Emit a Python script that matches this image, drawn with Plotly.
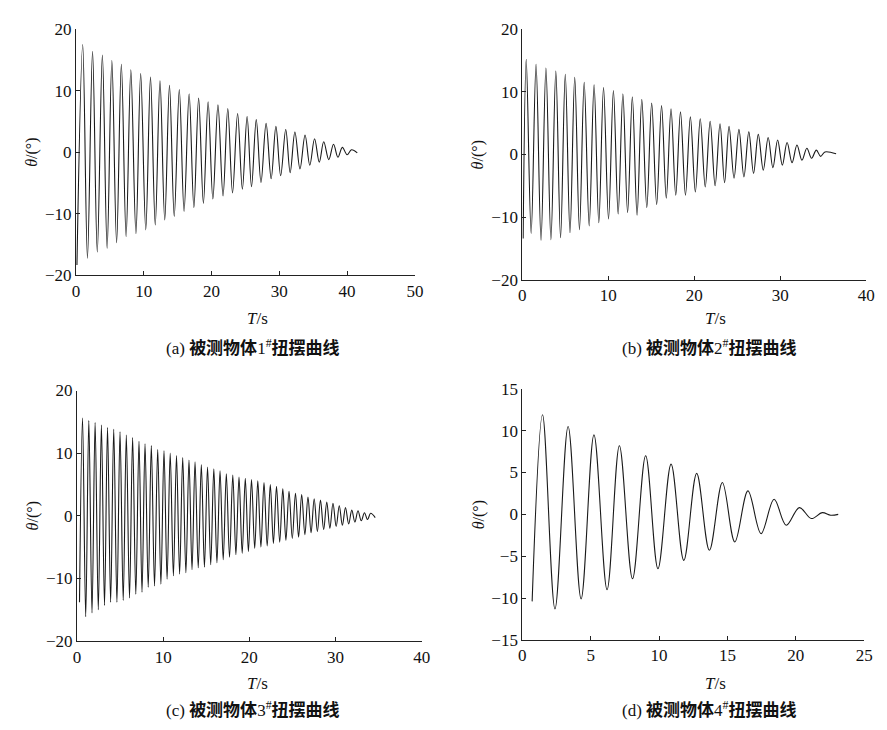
import plotly.graph_objects as go

# ---------------- data (extrema of each swing curve) -------------
# (a) object 1#
a_start_t, a_start_v = [0.15], [-18.3]
a_peak_t = [1.0, 2.45, 3.9, 5.3, 6.7, 8.1, 9.55, 11.0, 12.4, 13.8, 15.25, 16.7, 18.1, 19.5,
            20.95, 22.4, 23.85, 25.25, 26.6, 28.05, 29.5, 30.95, 32.3, 33.8, 35.2, 36.55,
            38.0, 39.3, 40.65]
a_peak_v = [17.5, 16.4, 15.8, 14.9, 14.3, 13.4, 12.8, 12.2, 11.6, 10.9, 10.2, 9.5, 8.8, 8.2,
            7.7, 7.1, 6.3, 5.8, 5.3, 4.7, 4.2, 3.7, 3.3, 2.8, 2.2, 1.7, 1.3, 0.8, 0.4]
a_trough_t = [1.7, 3.15, 4.6, 6.0, 7.4, 8.85, 10.3, 11.7, 13.1, 14.5, 15.95, 17.4, 18.8, 20.2,
              21.7, 23.1, 24.55, 25.9, 27.3, 28.8, 30.2, 31.6, 33.05, 34.5, 35.9, 37.3,
              38.65, 40.0]
a_trough_v = [-17.2, -16.2, -15.6, -14.7, -13.7, -13.2, -12.6, -11.8, -11.0, -10.4, -9.6, -9.0,
              -8.3, -7.6, -7.1, -6.6, -6.0, -5.6, -4.9, -4.3, -3.8, -3.3, -2.7, -2.1, -1.6,
              -1.2, -0.8, -0.4]
a_end_t, a_end_v = [41.5], [-0.1]

# (b) object 2#
b_start_t, b_start_v = [0.1], [-13.4]
b_peak_t = [0.46, 1.6, 2.75, 3.9, 5.0, 6.1, 7.2, 8.35, 9.45, 10.6, 11.7, 12.8, 13.9, 15.05,
            16.2, 17.3, 18.4, 19.55, 20.7, 21.85, 23.0, 24.05, 25.2, 26.35, 27.45, 28.6,
            29.7, 30.8, 31.95, 33.1, 34.2, 35.2]
b_peak_v = [15.2, 14.4, 13.8, 13.3, 12.8, 12.3, 11.5, 11.1, 10.7, 10.2, 9.7, 9.2, 8.8, 8.2,
            7.8, 7.3, 6.8, 6.0, 5.7, 5.3, 4.9, 4.5, 4.0, 3.6, 3.2, 2.7, 2.3, 1.9, 1.5, 1.0,
            0.7, 0.4]
b_trough_t = [1.03, 2.18, 3.33, 4.45, 5.55, 6.65, 7.78, 8.9, 10.03, 11.15, 12.25, 13.35,
              14.48, 15.63, 16.75, 17.85, 18.98, 20.13, 21.28, 22.43, 23.53, 24.63, 25.78,
              26.9, 28.03, 29.15, 30.25, 31.38, 32.53, 33.65, 34.7]
b_trough_v = [-12.6, -13.7, -13.6, -13.3, -12.5, -12.0, -11.4, -10.9, -10.3, -9.5, -9.3, -9.7,
              -8.5, -8.0, -7.0, -6.5, -6.5, -6.0, -5.2, -5.0, -4.5, -3.8, -3.6, -3.0, -2.5,
              -2.1, -1.7, -1.3, -0.9, -0.6, -0.3]
b_end_t, b_end_v = [36.5], [0.1]

# (c) object 3#
c_start_t, c_start_v = [0.3], [-13.8]
c_peak_t = [0.65, 1.38, 2.11, 2.84, 3.55, 4.27, 5.0, 5.73, 6.46, 7.2, 7.9, 8.63, 9.37, 10.1,
            10.82, 11.55, 12.27, 13.0, 13.7, 14.43, 15.15, 15.88, 16.6, 17.33, 18.08, 18.8,
            19.53, 20.25, 20.98, 21.7, 22.43, 23.15, 23.88, 24.6, 25.35, 26.07, 26.8, 27.52,
            28.25, 28.98, 29.7, 30.43, 31.15, 31.88, 32.6, 33.35, 34.07]
c_peak_v = [15.6, 15.2, 14.9, 14.5, 14.1, 13.8, 13.4, 12.9, 12.5, 11.9, 11.5, 11.2, 10.6,
            10.4, 10.0, 9.6, 9.3, 8.9, 8.6, 8.2, 7.8, 7.5, 7.2, 6.7, 6.5, 6.2, 6.0, 5.8, 5.6,
            5.3, 5.0, 4.7, 4.3, 3.9, 3.6, 3.4, 3.0, 2.7, 2.5, 2.2, 2.0, 1.6, 1.3, 0.9, 0.8,
            0.5, 0.4]
c_trough_t = [1.02, 1.75, 2.48, 3.2, 3.91, 4.64, 5.37, 6.1, 6.83, 7.55, 8.27, 9.0, 9.74,
              10.46, 11.19, 11.91, 12.64, 13.35, 14.07, 14.79, 15.52, 16.24, 16.97, 17.7,
              18.44, 19.17, 19.89, 20.62, 21.34, 22.07, 22.79, 23.52, 24.24, 24.98, 25.71,
              26.44, 27.16, 27.89, 28.62, 29.34, 30.07, 30.79, 31.52, 32.24, 32.98, 33.71]
c_trough_v = [-16.1, -15.5, -15.0, -14.3, -13.8, -13.8, -13.5, -13.1, -12.5, -12.2, -11.4,
              -11.2, -10.9, -10.1, -9.6, -9.3, -9.1, -8.6, -8.3, -8.2, -7.8, -7.5, -7.0, -6.6,
              -6.2, -6.0, -5.7, -5.2, -5.0, -4.8, -4.4, -4.2, -3.9, -3.6, -3.4, -3.0, -2.7,
              -2.5, -2.2, -2.0, -1.7, -1.5, -1.3, -1.0, -0.8, -0.6]
c_end_t, c_end_v = [34.6], [-0.3]

# (d) object 4#
d_start_t, d_start_v = [0.72], [-10.4]
d_peak_t = [1.48, 3.35, 5.24, 7.1, 9.02, 10.88, 12.75, 14.63, 16.5, 18.41, 20.26, 21.93]
d_peak_v = [11.9, 10.5, 9.5, 8.2, 7.0, 6.0, 4.9, 3.8, 2.8, 1.8, 0.8, 0.2]
d_trough_t = [2.39, 4.3, 6.2, 8.06, 9.92, 11.81, 13.68, 15.54, 17.46, 19.3, 21.14, 22.55]
d_trough_v = [-11.3, -10.1, -9.0, -7.7, -6.5, -5.5, -4.3, -3.3, -2.3, -1.3, -0.5, -0.1]
d_end_t, d_end_v = [23.1], [0.0]

captions = ["(a) ", "(b) ", "(c) ", "(d) "]
caption_nums = ["1", "2", "3", "4"]
caption_cn = "被测物体"
caption_cn2 = "扭摆曲线"
x_title = "<i>T</i>/s"
y_title = "<i>θ</i>/(°)"

x_ranges = [[0, 50], [0, 40], [0, 40], [0, 25]]
x_dticks = [10, 10, 10, 5]
y_ranges = [[-20, 20], [-20, 20], [-20, 20], [-15, 15]]
y_dticks = [10, 10, 10, 5]

# ---------------- layout geometry (paper fractions) -------------
W, H = 887, 730
x_dom_px = [(73, 417), (526, 875), (74, 424), (526, 873)]
y_dom_px = [(20.7, 273.5), (20.7, 278), (391.7, 649), (390, 647.7)]


def series(st, sv, pt, pv, tt, tv, et, ev):
    pts = sorted(zip(st + pt + tt + et, sv + pv + tv + ev))
    return [p[0] for p in pts], [p[1] for p in pts]


panels = [
    series(a_start_t, a_start_v, a_peak_t, a_peak_v, a_trough_t, a_trough_v, a_end_t, a_end_v),
    series(b_start_t, b_start_v, b_peak_t, b_peak_v, b_trough_t, b_trough_v, b_end_t, b_end_v),
    series(c_start_t, c_start_v, c_peak_t, c_peak_v, c_trough_t, c_trough_v, c_end_t, c_end_v),
    series(d_start_t, d_start_v, d_peak_t, d_peak_v, d_trough_t, d_trough_v, d_end_t, d_end_v),
]

fig = go.Figure()
tick_font = dict(family="Liberation Serif, Times New Roman, serif", size=17, color="#111")

layout = dict(
    width=W, height=H, margin=dict(l=0, r=0, t=0, b=0),
    paper_bgcolor="white", plot_bgcolor="white", showlegend=False,
)

annotations = []
for i, (xs, ys) in enumerate(panels):
    sfx = "" if i == 0 else str(i + 1)
    fig.add_trace(go.Scatter(
        x=xs, y=ys, mode="lines",
        line=dict(color="#1a1a1a", width=1.1, shape="spline", smoothing=1.0),
        xaxis="x" + sfx, yaxis="y" + sfx, hoverinfo="skip",
    ))
    x0, x1 = x_dom_px[i]
    yt, yb = y_dom_px[i]
    common = dict(showline=True, linecolor="#222", linewidth=1, mirror=False,
                  ticks="inside", ticklen=4, tickcolor="#222", tickwidth=1,
                  showgrid=False, zeroline=False, tickfont=tick_font)
    layout["xaxis" + sfx] = dict(domain=[x0 / W, x1 / W], anchor="y" + sfx,
                                 range=x_ranges[i], dtick=x_dticks[i], tick0=0,
                                 **common)
    layout["yaxis" + sfx] = dict(domain=[1 - yb / H, 1 - yt / H], anchor="x" + sfx,
                                 range=y_ranges[i], dtick=y_dticks[i], tick0=0,
                                 **common)
    # axis titles
    ycen = (yt + yb) / 2
    ylab_x = 29 if i % 2 == 0 else 482
    annotations.append(dict(
        x=ylab_x / W, y=1 - ycen / H, xref="paper", yref="paper",
        text=y_title, showarrow=False, textangle=-90,
        font=dict(family="Liberation Serif, serif", size=16, color="#111"),
        xanchor="center", yanchor="middle"))
    xlab_x = 257 if i % 2 == 0 else 722
    xlab_y = 318 if i < 2 else 693
    annotations.append(dict(
        x=xlab_x / W, y=1 - xlab_y / H, xref="paper", yref="paper",
        text=x_title, showarrow=False,
        font=dict(family="Liberation Serif, serif", size=17, color="#111"),
        xanchor="center", yanchor="middle"))
    cap_x = 253 if i % 2 == 0 else 716
    cap_y = 347 if i < 2 else 719
    cap_text = (captions[i] + "<b>" + caption_cn + "</b>" + caption_nums[i]
                + "<sup>#</sup><b>" + caption_cn2 + "</b>")
    annotations.append(dict(
        x=cap_x / W, y=1 - cap_y / H, xref="paper", yref="paper",
        text=cap_text, showarrow=False,
        font=dict(family="Liberation Serif, Noto Sans CJK SC, serif", size=17, color="#111"),
        xanchor="center", yanchor="middle"))

layout["annotations"] = annotations
fig.update_layout(**layout)
fig.write_html("out.html")
